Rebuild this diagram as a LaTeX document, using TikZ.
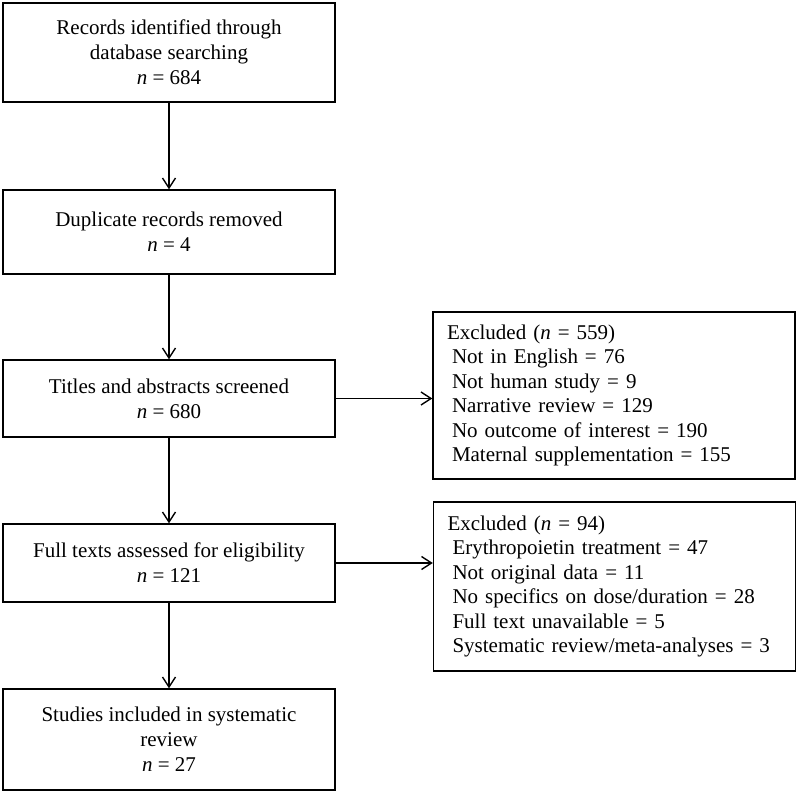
\documentclass[tikz,border=0pt]{standalone}
\usepackage{fontspec}
\setmainfont{Liberation Serif}
\usepackage{tikz}
\usetikzlibrary{arrows.meta}

\begin{document}
\begin{tikzpicture}[x=0.5pt,y=-0.5pt,
		line width=0.7pt,
		>={Straight Barb[length=5pt,width=6.5pt]},
		flowbox/.style={draw,align=center,minimum width=166pt,inner sep=2pt,
			font=\fontsize{10.5}{12.4}\selectfont},
		exclbox/.style={draw,align=left,text width=167pt,inner xsep=7pt,
			font=\fontsize{10.5}{12.2}\selectfont}]
		\useasboundingbox (0,0) rectangle (800,793);
		\node[flowbox,minimum height=49.5pt] (rec) at (169,52.5)
		{Records identified through\\database searching\\\textit{n} = 684};
		\node[flowbox,minimum height=42pt] (dup) at (169,232)
		{Duplicate records removed\\\textit{n} = 4};
		\node[flowbox,minimum height=38.5pt] (scr) at (169,398.5)
		{Titles and abstracts screened\\\textit{n} = 680};
		\node[flowbox,minimum height=39pt] (full) at (169,563)
		{Full texts assessed for eligibility\\\textit{n} = 121};
		\node[flowbox,minimum height=50.5pt] (inc) at (169,739.5)
		{Studies included in systematic\\review\\\textit{n} = 27};
		\node[exclbox,minimum height=83.5pt] (exc1) at (614,395.5)
		{Excluded (\textit{n} = 559)\\
		\hspace*{2.5pt}Not in English = 76\\
		\hspace*{2.5pt}Not human study = 9\\
		\hspace*{2.5pt}Narrative review = 129\\
		\hspace*{2.5pt}No outcome of interest = 190\\
		\hspace*{2.5pt}Maternal supplementation = 155};
		\node[exclbox,minimum height=84.5pt] (exc2) at (614.5,586.5)
		{Excluded (\textit{n} = 94)\\
		\hspace*{2.5pt}Erythropoietin treatment = 47\\
		\hspace*{2.5pt}Not original data = 11\\
		\hspace*{2.5pt}No specifics on dose/duration = 28\\
		\hspace*{2.5pt}Full text unavailable = 5\\
		\hspace*{2.5pt}Systematic review/meta-analyses = 3};
		\draw[->] (rec) -- (dup);
		\draw[->] (dup) -- (scr);
		\draw[->] (scr) -- (full);
		\draw[->] (full) -- (inc);
		\draw[->] (scr.east) -- (scr.east -| exc1.west);
		\draw[->] (full.east) -- (full.east -| exc2.west);
		\end{tikzpicture}
\end{document}
